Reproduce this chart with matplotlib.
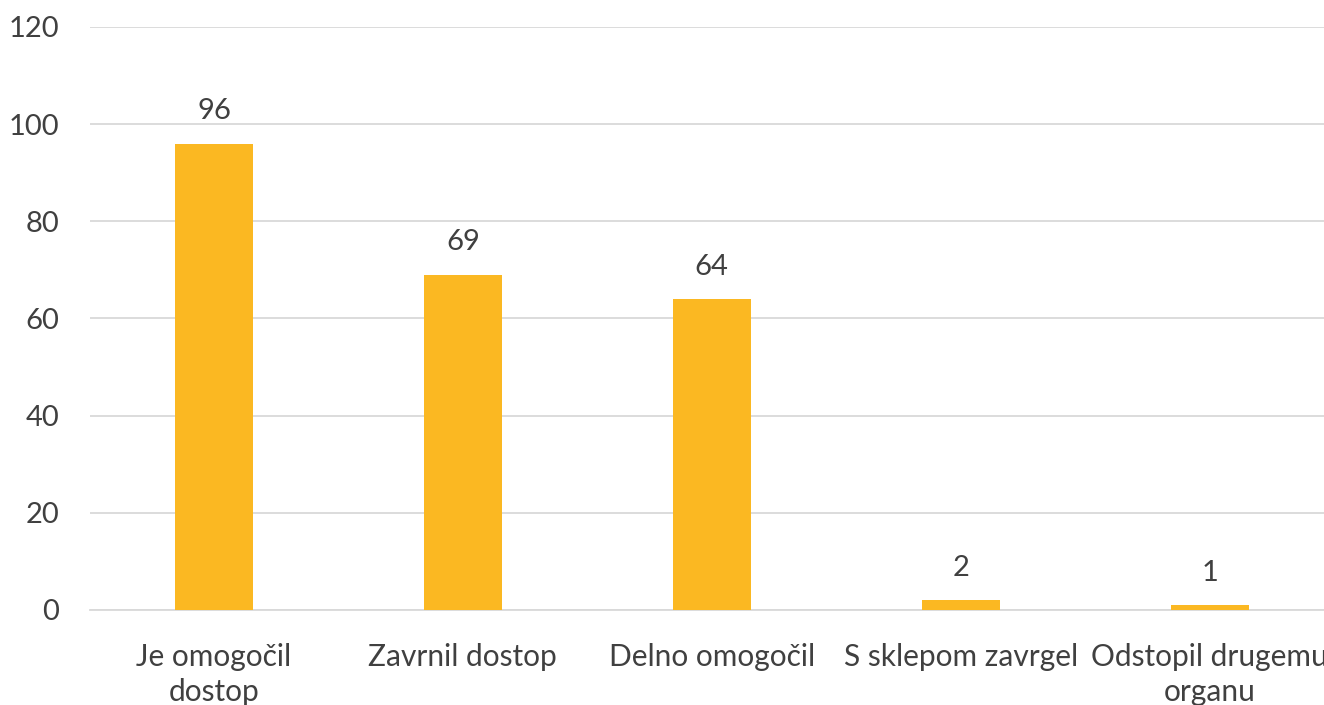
import matplotlib.pyplot as plt
import numpy as np

kategorije = ['Je omogočil\ndostop', 'Zavrnil dostop', 'Delno omogočil',
              'S sklepom zavrgel', 'Odstopil drugemu\norganu']
vrednosti = [96, 69, 64, 2, 1]
yticks = [0, 20, 40, 60, 80, 100, 120]

plt.rcParams['font.family'] = ['Lato', 'DejaVu Sans']
siva = '#404040'

fig = plt.figure(figsize=(13.24, 7.05), dpi=100)
ax = fig.add_axes([0.0676, 0.1348, 0.940, 0.827])

x = np.arange(len(kategorije))
bars = ax.bar(x, vrednosti, width=0.313, color='#FBB822', zorder=3)
for b, v in zip(bars, vrednosti):
    ax.text(b.get_x() + b.get_width() / 2, v + 4, str(v), ha='center', va='bottom',
            fontsize=21, color=siva)

ax.set_xlim(-0.5, len(kategorije) - 0.5)
ax.set_ylim(0, 120)
ax.set_yticks(yticks)
ax.set_xticks(x)
ax.set_xticklabels(kategorije, fontsize=21.5, color=siva, linespacing=1.3)
ax.tick_params(axis='y', labelsize=21, labelcolor=siva, length=0, pad=22)
ax.tick_params(axis='x', length=0, pad=24)
ax.grid(axis='y', color='#D9D9D9', linewidth=1.3, zorder=0)
for s in ax.spines.values():
    s.set_visible(False)
ax.spines['bottom'].set_visible(True)
ax.spines['bottom'].set_color('#D9D9D9')
ax.spines['bottom'].set_linewidth(1.3)

plt.savefig('out.png', dpi=100)
